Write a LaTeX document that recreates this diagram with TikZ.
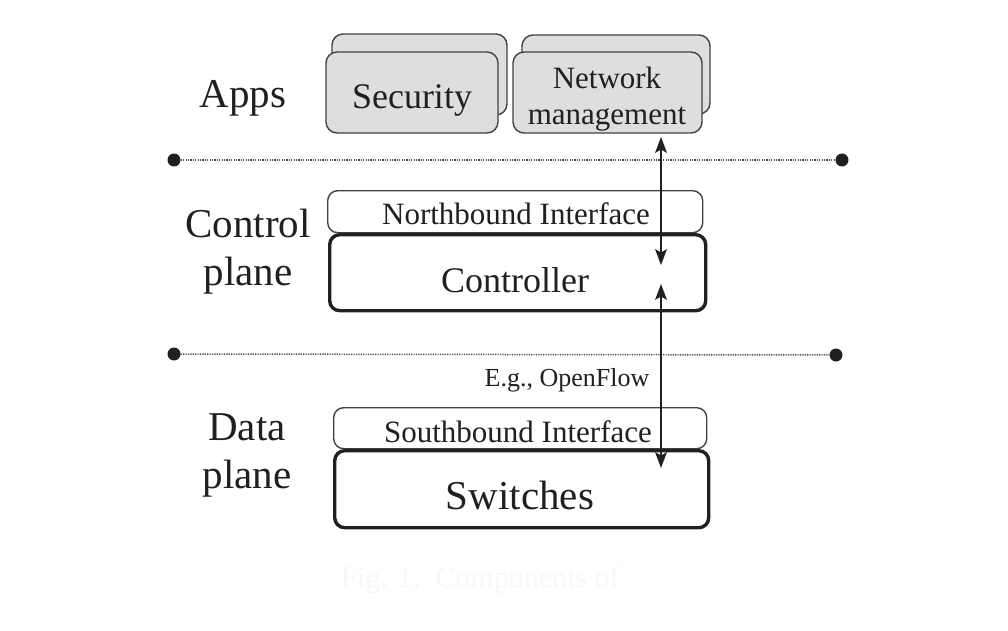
\documentclass[tikz,border=0pt]{standalone}
\usepackage{fontspec}
\setmainfont{Liberation Serif}
\definecolor{appfill}{HTML}{DEDEDE}
\definecolor{ink}{HTML}{231F20}
\begin{document}
\begin{tikzpicture}[x=1pt,y=-1pt,
  appbox/.style={draw=ink!85,line width=1.4pt,fill=appfill,rounded corners=11pt},
  ifbox/.style={draw=ink!85,line width=1.4pt,fill=white,rounded corners=10pt},
  mainbox/.style={draw=ink,line width=3.4pt,fill=white,rounded corners=10pt},
  lbl/.style={inner sep=0pt,text=ink,font=\fontsize{41}{48}\selectfont},
  txt/.style={inner sep=0pt,text=ink},
  sep/.style={draw=ink!80,line width=1.5pt,dash pattern=on 1.2pt off 1.2pt},
  dotc/.style={circle,fill=ink,inner sep=0pt,minimum size=13pt},
  shaft/.style={draw=ink,line width=2.6pt},
  head/.style={fill=ink,draw=none}
]
\useasboundingbox (0,0) rectangle (1008,631);
% Apps
\draw[appbox] (332,34) rectangle (507,115);
\draw[appbox] (326,52) rectangle (498,133);
\draw[appbox] (522,35) rectangle (710,114);
\draw[appbox] (513,52) rectangle (702,133);
\node[txt,font=\fontsize{36}{40}\selectfont] (sec) at (412,100) {Security};
\node[txt,font=\fontsize{31}{37}\selectfont,align=center] (nm) at (607,99) {Network\\[-1pt]management};
% labels
\node[lbl] (apps) at (243,98) {Apps};
\node[lbl,align=center] (cp) at (248,252) {Control\\plane};
\node[lbl,align=center] (dp) at (247,455) {Data\\plane};
% separators
\node[dotc] (l1) at (174,160) {};
\node[dotc] (r1) at (842,160) {};
\node[dotc] (l2) at (174,354) {};
\node[dotc] (r2) at (836,355) {};
\draw[sep] (l1) -- (r1);
\draw[sep] (l2) -- (r2);
% control plane
\node[ifbox,minimum width=375pt,minimum height=42pt,anchor=north west] (nbi) at (327,190) {};
\node[mainbox,minimum width=376pt,minimum height=76pt,anchor=north west] (ctl) at (328,233) {};
\node[txt,font=\fontsize{31}{36}\selectfont] (nbt) at (516,214) {Northbound Interface};
\node[txt,font=\fontsize{36}{40}\selectfont] (ctt) at (515,280) {Controller};
% data plane
\node[ifbox,minimum width=373pt,minimum height=41pt,anchor=north west] (sbi) at (333,407) {};
\node[mainbox,minimum width=374pt,minimum height=77pt,anchor=north west] (sw) at (333,449) {};
\node[txt,font=\fontsize{31}{36}\selectfont] (sbt) at (518,432) {Southbound Interface};
\node[txt,font=\fontsize{41}{46}\selectfont] (swt) at (520,495) {Switches};
\node[txt,font=\fontsize{26}{30}\selectfont] (of) at (567,380) {E.g., OpenFlow};
% arrows
\coordinate (a1) at (661,137);
\coordinate (a2) at (661,265);
\coordinate (b1) at (661,284);
\coordinate (b2) at (661,468);
\draw[shaft] ([yshift=-10pt]a1) -- ([yshift=10pt]a2);
\draw[shaft] ([yshift=-10pt]b1) -- ([yshift=10pt]b2);
\fill[head] (a1) -- ++(-6,16) -- ++(6,-3.5) -- ++(6,3.5) -- cycle;
\fill[head] (b1) -- ++(-6,16) -- ++(6,-3.5) -- ++(6,3.5) -- cycle;
\fill[head] (a2) -- ++(-6,-16) -- ++(6,3.5) -- ++(6,-3.5) -- cycle;
\fill[head] (b2) -- ++(-6,-16) -- ++(6,3.5) -- ++(6,-3.5) -- cycle;
% faint caption
\node[txt,text=black!3,font=\fontsize{30}{34}\selectfont] (cap) at (480,580) {Fig. 1.\ \ Components of};
\end{tikzpicture}
\end{document}
